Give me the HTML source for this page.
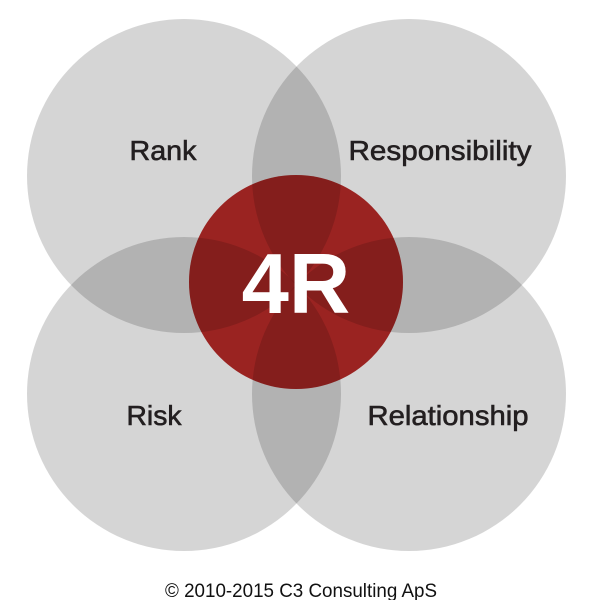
<!DOCTYPE html>
<html><head><style>html,body{margin:0;padding:0;background:#fff;}</style></head>
<body>
<svg width="600" height="600" viewBox="0 0 600 600" xmlns="http://www.w3.org/2000/svg">
<defs><clipPath id="rc"><circle cx="296" cy="282" r="107"/></clipPath></defs>
<g fill="#000" fill-opacity="0.165">
<circle cx="184" cy="176" r="157"/>
<circle cx="409" cy="176" r="157"/>
<circle cx="184" cy="394" r="157"/>
<circle cx="409" cy="394" r="157"/>
</g>
<circle cx="296" cy="282" r="107" fill="#b42927"/>
<g fill="#000" fill-opacity="0.14" clip-path="url(#rc)">
<circle cx="184" cy="176" r="157"/>
<circle cx="409" cy="176" r="157"/>
<circle cx="184" cy="394" r="157"/>
<circle cx="409" cy="394" r="157"/>
</g>
<g font-family="Liberation Sans, sans-serif" fill="#231f20" stroke="#231f20" stroke-width="0.6" font-size="28" lengthAdjust="spacingAndGlyphs">
<text x="163" y="160" text-anchor="middle" textLength="67" lengthAdjust="spacingAndGlyphs">Rank</text>
<text x="440" y="160" text-anchor="middle" textLength="183" lengthAdjust="spacingAndGlyphs">Responsibility</text>
<text x="154" y="425" text-anchor="middle" textLength="55" lengthAdjust="spacingAndGlyphs">Risk</text>
<text x="448" y="425" text-anchor="middle" textLength="161" lengthAdjust="spacingAndGlyphs">Relationship</text>
</g>
<text x="296" y="313" text-anchor="middle" font-family="Liberation Sans, sans-serif" font-weight="bold" font-size="85" fill="#fff">4R</text>
<text x="301" y="597" text-anchor="middle" font-family="Liberation Sans, sans-serif" font-size="19" fill="#111" textLength="272" lengthAdjust="spacingAndGlyphs">© 2010-2015 C3 Consulting ApS</text>
</svg>
</body></html>
